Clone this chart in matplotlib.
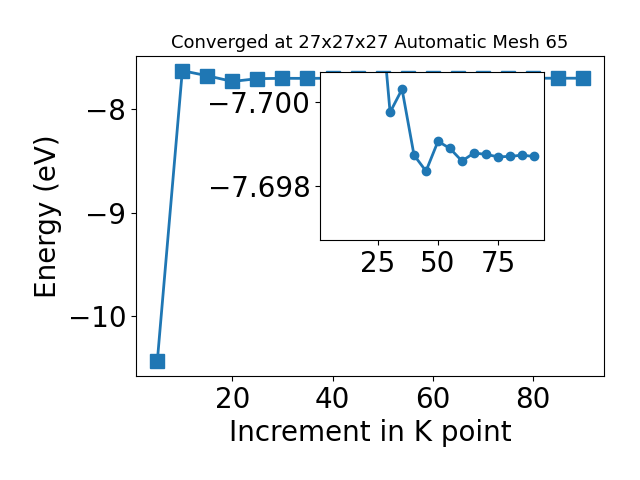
import matplotlib
matplotlib.use("Agg")
import matplotlib.pyplot as plt

kpoints = [5, 10, 15, 20, 25, 30, 35, 40, 45, 50, 55, 60, 65, 70, 75, 80, 85, 90]
energy = [-10.44, -7.626, -7.675, -7.730, -7.703, -7.69976, -7.70031, -7.69874,
          -7.69836, -7.69907, -7.69890, -7.69860, -7.69879, -7.69876, -7.69870,
          -7.69871, -7.69874, -7.69871]
inset_start = 4

fig = plt.figure(figsize=(6.4, 4.8), dpi=100)
ax = fig.add_axes([0.2125, 0.2167, 0.7315, 0.6663])
ax.plot(kpoints, energy, marker='s', markersize=10, linewidth=2, color='#1f77b4')
ax.set_xlabel('Increment in K point', fontsize=20)
ax.set_ylabel('Energy (eV)', fontsize=20)
ax.set_title('Converged at 27x27x27 Automatic Mesh 65', fontsize=13)
ax.tick_params(labelsize=20)

ins = fig.add_axes([0.5, 0.5, 0.35, 0.35])
ins.plot(kpoints[inset_start:], energy[inset_start:], marker='o', markersize=6,
         linewidth=2, color='#1f77b4')
ins.set_xlim(ax.get_xlim())
ins.set_ylim(-7.69672, -7.70072)
ins.tick_params(labelsize=20)

fig.savefig('out.png', dpi=100)
